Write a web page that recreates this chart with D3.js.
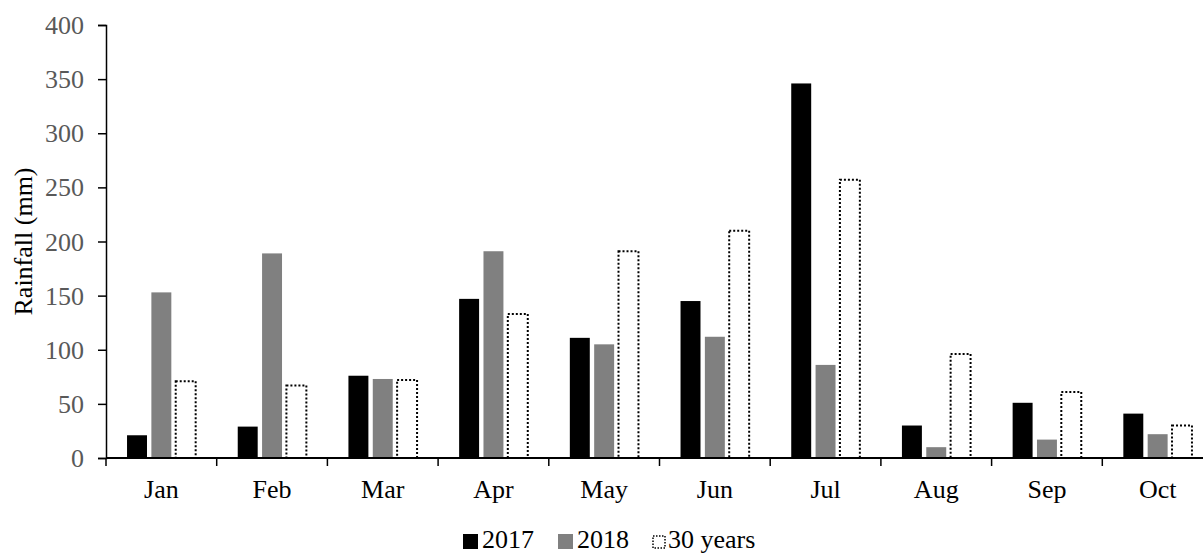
<!DOCTYPE html>
<html>
<head>
<meta charset="utf-8">
<script src="https://cdn.jsdelivr.net/npm/d3@7"></script>
<style>
  body { margin: 0; background: #fff; }
  svg text { font-family: "Liberation Serif", "Times New Roman", serif; }
</style>
</head>
<body>
<div id="chart"></div>
<script>
// Monthly rainfall (mm)
const months = ["Jan", "Feb", "Mar", "Apr", "May", "Jun", "Jul", "Aug", "Sep", "Oct"];
const rain2017 = [21, 29, 76, 147, 111, 145, 346, 30, 51, 41];
const rain2018 = [153, 189, 73, 191, 105, 112, 86, 10, 17, 22];
const rain30yr = [71, 67, 72, 133, 191, 210, 257, 96, 61, 30];
const seriesNames = ["2017", "2018", "30 years"];
const yTicks = [0, 50, 100, 150, 200, 250, 300, 350, 400];

const SERIF = "'Liberation Serif', 'Times New Roman', serif";
const width = 1203, height = 555;
const margin = { top: 25, right: -10, bottom: 97, left: 106 };
const innerW = width - margin.left - margin.right;
const innerH = height - margin.top - margin.bottom;

const svg = d3.select("#chart").append("svg")
    .attr("width", width)
    .attr("height", height);

const chart = svg.append("g")
    .attr("transform", `translate(${margin.left},${margin.top})`);

const x = d3.scaleBand()
    .domain(months)
    .range([0, innerW])
    .paddingInner(0)
    .paddingOuter(0);

const xSub = d3.scaleBand()
    .domain(seriesNames)
    .range([x.bandwidth() * 0.19, x.bandwidth() * 0.81])
    .paddingInner(0.18);

const y = d3.scaleLinear()
    .domain([0, 400])
    .range([innerH, 0]);

const rows = months.map((m, i) => ({
    month: m,
    values: [rain2017[i], rain2018[i], rain30yr[i]]
}));

// bars
const groups = chart.selectAll(".month")
    .data(rows)
    .join("g")
    .attr("class", "month")
    .attr("transform", d => `translate(${x(d.month)},0)`);

groups.selectAll("rect")
    .data(d => d.values.map((v, j) => ({ key: seriesNames[j], value: v, j })))
    .join("rect")
    .attr("x", d => xSub(d.key))
    .attr("width", xSub.bandwidth())
    .attr("y", d => y(d.value))
    .attr("height", d => innerH - y(d.value))
    .attr("fill", d => d.j === 0 ? "#000" : d.j === 1 ? "#808080" : "#fff")
    .attr("stroke", d => d.j === 2 ? "#000" : "none")
    .attr("stroke-width", 2)
    .attr("stroke-dasharray", d => d.j === 2 ? "2,2" : null);

// y axis
const yAxis = d3.axisLeft(y)
    .tickValues(yTicks)
    .tickSize(8)
    .tickPadding(14);

const yAxisG = chart.append("g")
    .attr("class", "axis y-axis")
    .call(yAxis);
yAxisG.attr("font-family", SERIF).attr("font-size", 26);
yAxisG.select(".domain").attr("stroke", "#000").attr("stroke-width", 1.5);
yAxisG.selectAll(".tick line").attr("stroke", "#000").attr("stroke-width", 1.5);
yAxisG.selectAll(".tick text")
    .attr("fill", "#595959")
    .attr("dy", "0.33em");

// x axis (labels only, boundary ticks drawn below)
const xAxis = d3.axisBottom(x).tickSize(0).tickPadding(0);
const xAxisG = chart.append("g")
    .attr("class", "axis x-axis")
    .attr("transform", `translate(0,${innerH})`)
    .call(xAxis);
xAxisG.attr("font-family", SERIF).attr("font-size", 26);
xAxisG.select(".domain").remove();
xAxisG.selectAll(".tick text")
    .attr("fill", "#000")
    .attr("y", 40)
    .attr("dy", 0);

const boundaries = months.map(m => x(m)).concat([innerW]);
xAxisG.selectAll(".boundary")
    .data(boundaries)
    .join("line")
    .attr("class", "boundary")
    .attr("x1", d => d).attr("x2", d => d)
    .attr("y1", 0).attr("y2", 8)
    .attr("stroke", "#000")
    .attr("stroke-width", 1.5);
xAxisG.append("line")
    .attr("x1", 0).attr("x2", innerW)
    .attr("y1", 0).attr("y2", 0)
    .attr("stroke", "#000")
    .attr("stroke-width", 2);

// y axis title
svg.append("text")
    .attr("transform", `translate(32,${margin.top + innerH / 2}) rotate(-90)`)
    .attr("text-anchor", "middle")
    .attr("font-family", SERIF)
    .attr("font-size", 26)
    .attr("fill", "#000")
    .text("Rainfall (mm)");

// legend
const legendSwatchX = [463, 558, 653];
const legendTextX = [482, 577, 668];
const legend = svg.append("g")
    .attr("class", "legend")
    .attr("font-family", SERIF)
    .attr("font-size", 26);
seriesNames.forEach((name, j) => {
    legend.append("rect")
        .attr("x", legendSwatchX[j])
        .attr("y", j === 2 ? 536 : 534)
        .attr("width", j === 2 ? 12 : 15)
        .attr("height", j === 2 ? 12 : 15)
        .attr("fill", j === 0 ? "#000" : j === 1 ? "#808080" : "#fff")
        .attr("stroke", j === 2 ? "#000" : "none")
        .attr("stroke-width", 1.5)
        .attr("stroke-dasharray", j === 2 ? "1.5,1.5" : null);
    legend.append("text")
        .attr("x", legendTextX[j])
        .attr("y", 548)
        .attr("fill", "#000")
        .text(name);
});
</script>
</body>
</html>
